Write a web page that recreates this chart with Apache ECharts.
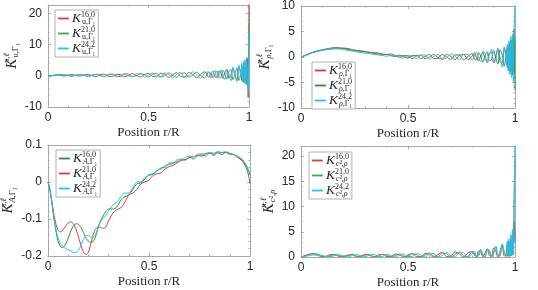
<!DOCTYPE html>
<html><head><meta charset="utf-8">
<script src="https://cdn.jsdelivr.net/npm/echarts@6/dist/echarts.min.js"></script>
<style>html,body{margin:0;padding:0;background:#fff}#c{width:538px;height:290px}</style>
</head><body><div id="c"></div>
<script>
// ---------- data ----------
const xTicks = [0, 0.5, 1];
// shared radial grid for panels K_u, K_rho, K_c2rho
const xR = [0,0.02,0.04,0.06,0.08,0.1,0.12,0.14,0.16,0.18,0.2,0.22,0.24,0.26,0.28,0.3,0.32,0.34,0.36,0.38,
  0.4,0.42,0.44,0.46,0.48,0.5,0.52,0.54,0.56,0.58,0.6,0.62,0.64,0.66,0.68,0.7,0.72,0.74,0.76,0.78,
  0.8,0.81,0.82,0.83,0.84,0.85,0.86,0.87,0.88,0.89,0.9,0.91,0.92,0.93,0.94,0.95,0.96,
  0.964,0.968,0.972,0.976,0.98,0.984,0.988,0.992,0.996,1];
// radial grid for panel K_A
const xA = [0,0.01,0.02,0.03,0.04,0.05,0.06,0.07,0.08,0.09,0.1,0.11,0.12,0.13,0.14,0.15,0.16,0.17,0.18,0.19,
  0.2,0.21,0.22,0.23,0.24,0.25,0.26,0.27,0.28,0.29,0.3,
  0.32,0.34,0.36,0.38,0.4,0.42,0.44,0.46,0.48,0.5,0.52,0.54,0.56,0.58,0.6,0.62,0.64,0.66,0.68,0.7,
  0.72,0.74,0.76,0.78,0.8,0.82,0.84,0.86,0.88,0.9,0.92,0.94,0.96,0.97,0.98,0.99,1];

// Panel 1: K_u
const u16 = [0,0.1,0.3,0.2,-0.1,0.2,0.4,0.1,-0.1,0.3, 0.5,0.0,-0.2,0.4,0.5,-0.1,-0.2,0.5,0.4,-0.3,
  0.1,0.7,0.1,-0.4,0.4,0.8,-0.2,-0.3,0.8,0.5, -0.5,0.3,1.0,-0.2,-0.4,1.1,0.4,-0.6,0.6,1.3,
  -0.5,0.5,1.5,-0.3,-0.6,1.6,0.8,-0.9,1.2,2.0, -0.8,0.2,2.4,0.5,-1.4,2.6,1.2,-1.5,3.2,-1.8,
  3.8,-2.2,4.6,-2.8,5.6,-7.0,26];
const u21 = [0,0.05,0.2,0.4,0.3,0.0,-0.1,0.2,0.4,0.2, -0.2,0.1,0.5,0.2,-0.3,0.3,0.6,0.0,-0.3,0.5,
  0.6,-0.2,0.0,0.7,0.3,-0.4,0.5,0.8,-0.3,0.0, 0.9,0.2,-0.5,0.7,0.9,-0.4,0.2,1.2,0.0,-0.6,
  1.2,0.8,-0.6,0.4,1.6,-0.4,-0.5,1.8,0.6,-1.0, 1.4,2.0,-1.2,0.6,2.6,-1.5,1.0,3.0,-1.6,3.4,
  -2.0,4.0,-2.6,4.8,-3.0,-2.5,17];
const u24 = [0,0.0,0.1,0.3,0.4,0.2,0.0,0.2,0.4,0.1, -0.1,0.3,0.5,0.0,-0.2,0.5,0.4,-0.3,0.2,0.7,
  0.0,-0.3,0.6,0.6,-0.4,0.2,0.9,-0.1,-0.4,0.9, 0.5,-0.6,0.5,1.1,-0.5,0.0,1.3,0.2,-0.8,1.0,
  1.2,-0.8,0.4,1.8,-0.6,-0.2,2.0,0.0,-1.2,2.2, 0.6,-1.6,2.8,0.2,-1.8,3.4,-0.5,4.0,-2.0,4.6,
  -2.4,5.2,-2.6,5.8,-3.0,-5.0,14];

// Panel 2: K_rho
const r16 = [0,0.3,0.65,0.95,1.15,1.3,1.45,1.55,1.65,1.7, 1.75,1.65,1.45,1.3,1.2,1.1,0.95,0.85,0.8,0.6,
  0.5,0.6,0.3,0.0,0.3,0.2,-0.3,0.2,0.4,-0.3, 0.0,0.5,-0.2,-0.4,0.5,0.1,-0.5,0.3,0.5,-0.5,
  0.2,0.8,-0.1,-0.8,0.3,1.0,-0.4,-0.9,0.8,0.9, -1.2,0.2,1.5,-1.0,-1.2,1.8,0.2,-2.0,2.2,-2.4,
  2.8,-3.0,3.2,-3.5,3.6,-3.0,3.0];
const r21 = [0,0.3,0.7,1.0,1.25,1.45,1.6,1.75,1.85,1.8, 1.65,1.5,1.35,1.2,1.05,1.0,0.85,0.7,0.6,0.45,
  0.5,0.25,0.1,0.35,0.1,-0.2,0.3,0.3,-0.3,0.1, 0.5,-0.3,-0.2,0.5,0.0,-0.5,0.4,0.4,-0.6,0.1,
  0.7,-0.4,-0.6,0.8,0.2,-1.0,0.3,1.0,-0.8,-0.5, 1.3,-0.2,-1.4,1.4,0.6,-1.8,1.0,2.0,-2.2,2.6,
  -2.8,3.2,-3.2,4.0,-3.5,5.5,-6.5];
const r24 = [0,0.3,0.6,0.9,1.15,1.35,1.5,1.6,1.6,1.55, 1.45,1.3,1.15,1.0,0.9,0.75,0.65,0.5,0.4,0.3,
  0.15,0.3,0.2,-0.1,-0.2,0.3,0.1,-0.3,0.3,0.4, -0.4,0.1,0.5,-0.4,-0.2,0.6,0.2,-0.6,0.5,0.5,
  -0.6,0.2,1.0,-0.3,-0.9,1.2,0.5,-1.2,0.4,1.5, -1.0,-0.8,1.8,0.2,-2.0,2.0,-1.5,2.5,-2.8,3.2,
  -3.5,4.0,-4.0,4.5,-4.8,5.0,11];

// Panel 3: K_A
const a16 = [0,-0.025,-0.06,-0.1,-0.135,-0.16,-0.173,-0.177,-0.174,-0.165,-0.152,-0.137,-0.124,-0.116,-0.113,-0.114,-0.12,-0.13,-0.142,-0.153,
  -0.16,-0.163,-0.162,-0.155,-0.14,-0.12,-0.105,-0.095,-0.085,-0.077,-0.073,
  -0.073,-0.068,-0.05,-0.04,-0.035,-0.02,-0.005,-0.002,0.008,0.02, 0.022,0.03,0.038,0.04,0.05,0.052,0.055,0.062,0.06,0.068,
  0.062,0.07,0.074,0.07,0.078,0.072,0.079,0.074,0.08,0.075, 0.074,0.066,0.058, 0.05,0.04,0.025,-0.005];
const a21 = [0,-0.02,-0.055,-0.09,-0.115,-0.13,-0.135,-0.132,-0.125,-0.117,-0.111,-0.108,-0.109,-0.117,-0.13,-0.147,-0.165,-0.182,-0.193,-0.196,
  -0.19,-0.172,-0.15,-0.133,-0.124,-0.121,-0.122,-0.125,-0.125,-0.118,-0.105,
  -0.085,-0.075,-0.07,-0.055,-0.035,-0.03,-0.02,-0.005,0.0,0.005, 0.018,0.022,0.025,0.035,0.042,0.045,0.052,0.058,0.06,0.066,
  0.068,0.072,0.07,0.076,0.078,0.075,0.081,0.079,0.08,0.077, 0.074,0.068,0.06, 0.052,0.045,0.035,0.02];
const a24 = [0,-0.02,-0.06,-0.1,-0.13,-0.152,-0.165,-0.172,-0.177,-0.18,-0.183,-0.186,-0.189,-0.191,-0.19,-0.185,-0.175,-0.162,-0.15,-0.145,
  -0.145,-0.148,-0.15,-0.147,-0.135,-0.12,-0.108,-0.1,-0.095,-0.088,-0.078,
  -0.063,-0.055,-0.04,-0.03,-0.03,-0.015,0.0,0.0,0.012,0.018, 0.02,0.032,0.035,0.045,0.048,0.05,0.06,0.06,0.066,0.07,
  0.068,0.075,0.076,0.077,0.08,0.078,0.082,0.08,0.082,0.078, 0.074,0.069,0.062, 0.055,0.047,0.035,0.022];

// Panel 4: K_c2rho
const c16 = [0,0.3,0.6,0.6,0.3,0.05,0.2,0.5,0.4,0.1, 0.1,0.4,0.4,0.05,0.2,0.5,0.3,0.0,0.4,0.5,
  0.1,0.1,0.6,0.4,0.0,0.4,0.7,0.1,0.1,0.7, 0.5,0.0,0.5,0.9,0.1,0.2,1.0,0.6,0.0,0.8,
  1.1,0.3,0.1,1.2,0.9,0.0,0.8,1.6,0.3,0.1, 1.8,1.2,0.0,1.2,2.4,0.2,0.3,2.6,0.1,2.8,
  0.2,3.4,0.3,4.2,0.5,7.0,3.0];
const c21 = [0,0.2,0.5,0.7,0.5,0.2,0.05,0.3,0.5,0.3, 0.05,0.3,0.5,0.2,0.05,0.4,0.5,0.1,0.1,0.5,
  0.4,0.0,0.3,0.6,0.2,0.05,0.6,0.5,0.0,0.4, 0.8,0.2,0.1,0.8,0.6,0.0,0.5,1.0,0.2,0.1,
  1.1,0.8,0.0,0.6,1.5,0.4,0.0,1.6,1.0,0.0, 1.0,2.0,0.3,0.4,2.5,0.8,0.1,2.8,0.2,3.2,
  0.1,3.8,0.2,4.8,0.4,12,19];
const c24 = [0,0.1,0.3,0.4,0.4,0.3,0.1,0.1,0.3,0.4, 0.2,0.0,0.3,0.5,0.2,0.0,0.4,0.5,0.1,0.1,
  0.5,0.3,0.0,0.4,0.6,0.1,0.1,0.7,0.4,0.0, 0.6,0.7,0.0,0.3,0.9,0.3,0.0,0.9,0.8,0.0,
  0.6,1.2,0.2,0.2,1.4,0.6,0.0,1.4,1.4,0.0, 0.6,2.2,0.4,0.1,2.6,1.0,0.2,3.2,0.3,3.6,
  0.2,4.4,0.3,5.5,0.5,9,26];

// ---------- styling ----------
const RED = '#d23f3f', GREEN = '#45a845', DGREEN = '#2f8f2f', CYAN = '#1fc3f3';
const AX = '#a8a8a8', TXT = '#262626';
const SANS = 'Liberation Sans', SERIF = 'Liberation Serif';

const grids = [
  {left:48, top:5, width:201, height:102},
  {left:301, top:6, width:214, height:102},
  {left:48, top:145, width:202, height:111},
  {left:301, top:146, width:214, height:111}
];

const richMath = (big, small, lh) => ({
  k:{fontFamily:SERIF, fontStyle:'italic', fontSize:big, lineHeight:lh, color:TXT, verticalAlign:'middle'},
  sp:{fontFamily:SERIF, fontSize:small, lineHeight:small+0.5, color:TXT, verticalAlign:'top', width:1},
  spi:{fontFamily:SERIF, fontStyle:'italic', fontSize:small, lineHeight:small+0.5, color:TXT, verticalAlign:'top', width:1},
  sb:{fontFamily:SERIF, fontSize:small, lineHeight:small+0.5, color:TXT, verticalAlign:'bottom'},
  sbi:{fontFamily:SERIF, fontStyle:'italic', fontSize:small, lineHeight:small+0.5, color:TXT, verticalAlign:'bottom'}
});

function xAx(g, main) {
  return {
    type:'value', gridIndex:g, min:0, max:1, interval:0.5, position: main ? 'bottom' : 'top',
    axisLine:{show:true, onZero:false, lineStyle:{color:AX, width:1}},
    axisTick:{show:true, inside:true, length:3, lineStyle:{color:AX}},
    minorTick:{show:true, splitNumber:5, length:1.5, lineStyle:{color:AX}},
    splitLine:{show:false}, minorSplitLine:{show:false},
    axisLabel:{show:main, color:TXT, fontSize:12, fontFamily:SANS, margin:5},
    name: main ? 'Position r/R' : '', nameLocation:'middle', nameGap:19,
    nameTextStyle:{fontFamily:SERIF, fontSize:13, color:TXT}
  };
}
function yAx(g, main, min, max, interval, name, showMax) {
  return {
    type:'value', gridIndex:g, min:min, max:max, interval:interval, position: main ? 'left' : 'right',
    axisLine:{show:true, onZero:false, lineStyle:{color:AX, width:1}},
    axisTick:{show:true, inside:true, length:3, lineStyle:{color:AX}},
    minorTick:{show:true, splitNumber:5, length:1.5, lineStyle:{color:AX}},
    splitLine:{show:false}, minorSplitLine:{show:false},
    axisLabel:{show:main, color:TXT, fontSize:12, fontFamily:SANS, margin:6, showMaxLabel:showMax},
    name: main ? name : '', nameLocation:'middle', nameRotate:90, nameGap:23,
    nameTextStyle:{rich:richMath(15, 8.5, 18)}
  };
}

function pts(xs, ys) { return xs.map((x, i) => [x, ys[i]]); }
function line(name, g, xs, ys, color, sm) {
  return {
    type:'line', name:name, xAxisIndex:g, yAxisIndex:g, data:pts(xs, ys),
    showSymbol:false, symbol:'none', smooth:sm, animation:false,
    lineStyle:{width:1, color:color}, itemStyle:{color:color}
  };
}

const labels = {
  u16:'{k|K}{sp|16,0}{sb|u,Γ₁}', u21:'{k|K}{sp|21,0}{sb|u,Γ₁}', u24:'{k|K}{sp|24,2}{sb|u,Γ₁}',
  r16:'{k|K}{sp|16,0}{sbi|ρ}{sb|,Γ₁}', r21:'{k|K}{sp|21,0}{sbi|ρ}{sb|,Γ₁}', r24:'{k|K}{sp|24,2}{sbi|ρ}{sb|,Γ₁}',
  a16:'{k|K}{sp|16,0}{sbi|A}{sb|,Γ₁}', a21:'{k|K}{sp|21,0}{sbi|A}{sb|,Γ₁}', a24:'{k|K}{sp|24,2}{sbi|A}{sb|,Γ₁}',
  c16:'{k|K}{sp|16,0}{sbi|c²,ρ}', c21:'{k|K}{sp|21,0}{sbi|c²,ρ}', c24:'{k|K}{sp|24,2}{sbi|c²,ρ}'
};
function leg(names, left, top) {
  return {
    data:names, orient:'vertical', left:left, top:top, itemWidth:11, itemHeight:1,
    lineStyle:{width:1.8}, itemStyle:{color:'rgba(0,0,0,0)', borderWidth:0, opacity:0},
    itemGap:0, padding:[1,3,1,2], borderColor:'#b0b0b0', borderWidth:1, backgroundColor:'#fff',
    selectedMode:false, formatter:(n) => labels[n], textStyle:{rich:richMath(13.5, 8, 15), padding:[0,0,0,-2]}
  };
}

const option = {
  animation:false,
  backgroundColor:'#fff',
  grid: grids.map(g => Object.assign({containLabel:false, outerBoundsMode:'none'}, g)),
  xAxis: [xAx(0,true), xAx(1,true), xAx(2,true), xAx(3,true), xAx(0,false), xAx(1,false), xAx(2,false), xAx(3,false)],
  yAxis: [
    yAx(0,true,-10,22.7,10,'{k|K}{spi|n,ℓ}{sb|u,Γ₁}',false),
    yAx(1,true,-10,10,5,'{k|K}{spi|n,ℓ}{sbi|ρ}{sb|,Γ₁}',true),
    yAx(2,true,-0.2,0.1,0.1,'{k|K}{spi|n,ℓ}{sbi|A}{sb|,Γ₁}',true),
    yAx(3,true,0,22,5,'{k|K}{spi|n,ℓ}{sbi|c²,ρ}',false),
    yAx(0,false,-10,22.7,10,'',false),
    yAx(1,false,-10,10,5,'',true),
    yAx(2,false,-0.2,0.1,0.1,'',true),
    yAx(3,false,0,22,5,'',false)
  ],
  legend: [
    leg(['u16','u21','u24'], 55, 10),
    leg(['r16','r21','r24'], 312, 62),
    leg(['a16','a21','a24'], 56, 150),
    leg(['c16','c21','c24'], 309, 152)
  ],
  series: [
    line('u16',0,xR,u16,RED,0.3), line('u21',0,xR,u21,GREEN,0.3), line('u24',0,xR,u24,CYAN,0.3),
    line('r16',1,xR,r16,RED,0.3), line('r21',1,xR,r21,DGREEN,0.3), line('r24',1,xR,r24,CYAN,0.3),
    line('a16',2,xA,a16,DGREEN,0.3), line('a21',2,xA,a21,RED,0.3), line('a24',2,xA,a24,CYAN,0.3),
    line('c16',3,xR,c16,RED,0.3), line('c21',3,xR,c21,GREEN,0.3), line('c24',3,xR,c24,CYAN,0.3)
  ]
};
const chart = echarts.init(document.getElementById('c'), null, {renderer:'canvas'});
chart.setOption(option);
</script></body></html>
